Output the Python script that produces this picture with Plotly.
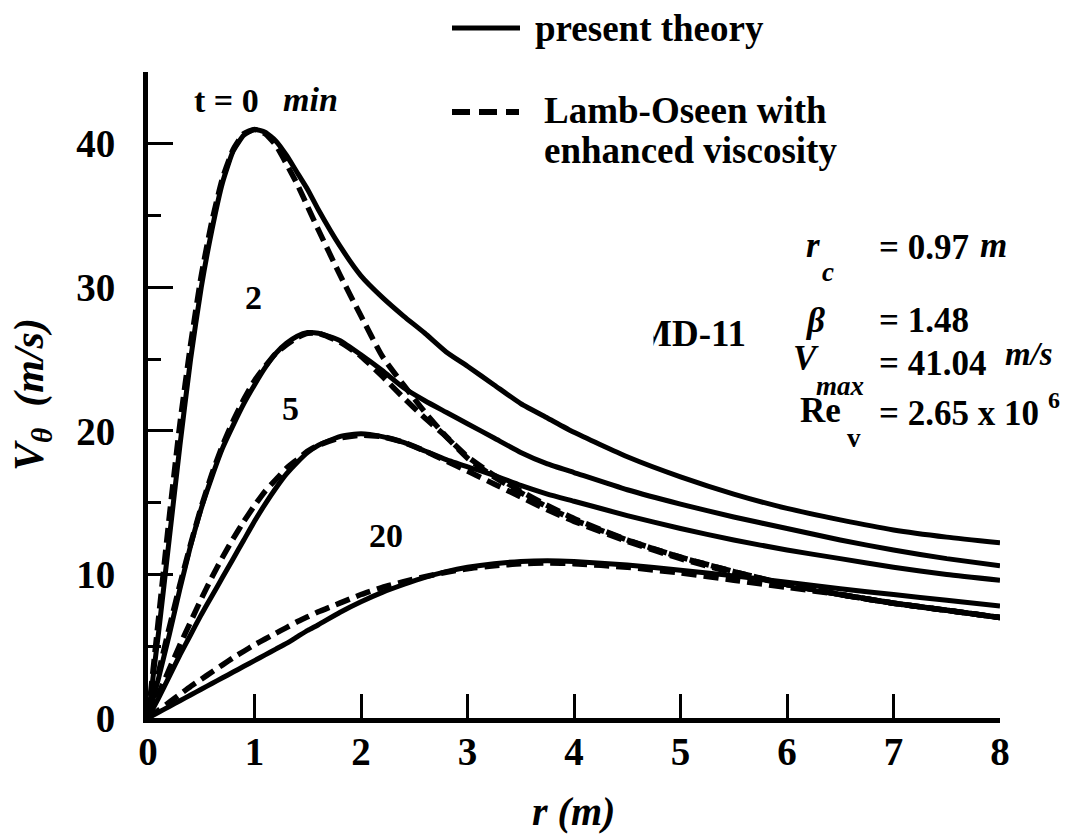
import plotly.graph_objects as go

# radial positions (m)
r = [0, 0.1, 0.2, 0.3, 0.4, 0.5, 0.6, 0.7, 0.8, 0.9, 1.0, 1.1, 1.2, 1.3, 1.4,
     1.5, 1.6, 1.8, 2.0, 2.2, 2.4, 2.6, 2.8, 3.0, 3.25, 3.5, 3.75, 4.0, 4.5,
     5.0, 5.5, 6.0, 6.5, 7.0, 7.5, 8.0]

# present theory, V_theta (m/s)
theory_t0 = [0, 6.0, 12.5, 19.0, 25.0, 30.0, 34.0, 37.3, 39.5, 40.6, 41.0, 40.8,
             40.2, 39.2, 38.0, 36.8, 35.4, 32.9, 30.8, 29.3, 28.0, 26.8, 25.5,
             24.5, 23.2, 21.9, 20.9, 19.9, 18.2, 16.8, 15.6, 14.6, 13.8, 13.1,
             12.6, 12.2]
theory_t2 = [0, 2.8, 5.8, 9.0, 12.0, 14.6, 16.8, 18.8, 20.4, 21.9, 23.2, 24.4,
             25.4, 26.1, 26.6, 26.85, 26.8, 26.3, 25.3, 24.2, 23.0, 22.1, 21.3,
             20.5, 19.5, 18.5, 17.7, 17.1, 15.9, 14.9, 14.0, 13.2, 12.4, 11.7,
             11.1, 10.6]
theory_t5 = [0, 1.4, 2.9, 4.4, 5.8, 7.2, 8.5, 9.8, 11.1, 12.4, 13.7, 14.9, 16.0,
             17.0, 17.8, 18.5, 19.0, 19.6, 19.8, 19.6, 19.2, 18.6, 18.0, 17.5,
             16.9, 16.2, 15.6, 15.1, 14.1, 13.2, 12.4, 11.7, 11.1, 10.5, 10.0,
             9.6]
theory_t20 = [0, 0.4, 0.8, 1.2, 1.6, 2.0, 2.4, 2.8, 3.2, 3.6, 4.0, 4.4, 4.8,
              5.2, 5.65, 6.1, 6.5, 7.35, 8.1, 8.75, 9.3, 9.8, 10.2, 10.5, 10.75,
              10.9, 10.95, 10.9, 10.65, 10.3, 9.9, 9.45, 9.0, 8.6, 8.2, 7.8]

# Lamb-Oseen vortex with enhanced viscosity, V_theta (m/s)
lamb_t0 = [0, 7.0, 14.0, 20.5, 26.0, 30.8, 34.6, 37.6, 39.6, 40.7, 41.0, 40.7,
           39.9, 38.6, 37.2, 35.6, 34.0, 30.9, 28.0, 25.2, 23.2, 21.3, 19.6,
           18.1, 16.8, 15.7, 14.7, 13.8, 12.4, 11.2, 10.2, 9.3, 8.6, 8.0, 7.5,
           7.0]
lamb_t2 = [0, 3.2, 6.3, 9.3, 12.1, 14.7, 17.0, 19.0, 20.7, 22.2, 23.5, 24.5,
           25.4, 26.0, 26.5, 26.8, 26.8, 26.2, 25.2, 23.8, 22.3, 20.9, 19.6,
           18.2, 16.9, 15.8, 14.8, 13.9, 12.4, 11.2, 10.2, 9.3, 8.6, 8.0, 7.5,
           7.0]
lamb_t5 = [0, 1.7, 3.4, 5.1, 6.7, 8.3, 9.8, 11.2, 12.5, 13.7, 14.8, 15.8, 16.6,
           17.4, 18.0, 18.6, 19.0, 19.5, 19.7, 19.6, 19.2, 18.6, 17.9, 17.2,
           16.3, 15.4, 14.5, 13.7, 12.3, 11.1, 10.1, 9.3, 8.6, 8.0, 7.5, 7.0]
lamb_t20 = [0, 0.55, 1.1, 1.65, 2.2, 2.7, 3.2, 3.7, 4.2, 4.65, 5.1, 5.5, 5.9,
            6.3, 6.7, 7.05, 7.4, 8.0, 8.6, 9.1, 9.5, 9.85, 10.15, 10.4, 10.6,
            10.75, 10.8, 10.75, 10.5, 10.1, 9.6, 9.1, 8.6, 8.0, 7.5, 7.0]

x_ticks = [0, 1, 2, 3, 4, 5, 6, 7, 8]
y_ticks = [0, 10, 20, 30, 40]
y_minor = [5, 15, 25, 35, 45]

W, H = 1070, 838
ML, MR, MT, MB = 148, 70, 72, 120
SERIF = "Liberation Serif"
DASH = "15px,7px"


def paper(xp, yp):
    """Convert page pixels to paper coordinates."""
    return (xp - ML) / (W - ML - MR), 1 - (yp - MT) / (H - MT - MB)


fig = go.Figure()

for ys in (theory_t0, theory_t2, theory_t5, theory_t20):
    fig.add_trace(go.Scatter(x=r, y=ys, mode="lines",
                             line=dict(color="black", width=5, shape="spline",
                                       smoothing=0.5),
                             showlegend=False, hoverinfo="skip"))
for ys in (lamb_t0, lamb_t2, lamb_t5, lamb_t20):
    fig.add_trace(go.Scatter(x=r, y=ys, mode="lines",
                             line=dict(color="black", width=5.5, dash=DASH,
                                       shape="spline", smoothing=0.5),
                             showlegend=False, hoverinfo="skip"))

annotations = []


def label(text, xp, yp, size, xanchor="center", yanchor="middle", angle=0):
    xx, yy = paper(xp, yp)
    annotations.append(dict(text="<b>" + text + "</b>", x=xx, y=yy,
                            xref="paper", yref="paper",
                            xanchor=xanchor, yanchor=yanchor, showarrow=False,
                            textangle=angle,
                            font=dict(family=SERIF, size=size, color="black")))


# curve labels
label("t = 0", 192, 101, 34, xanchor="left")
label("<i>min</i>", 281, 99, 34, xanchor="left")
label("2", 253, 297, 34)
label("5", 290, 408, 34)
label("20", 386, 535, 34)

# legend
label("present theory", 533, 28, 37, xanchor="left")
label("Lamb-Oseen with", 542, 110, 37, xanchor="left")
label("enhanced viscosity", 542, 150, 37, xanchor="left")

# vortex parameters
label("MD-11", 748, 333, 37, xanchor="right")
label("<i>r</i>", 813, 245, 35)
label("<i>c</i>", 828, 272, 27)
label("= 0.97", 877, 247, 35, xanchor="left")
label("<i>m</i>", 978, 245, 35, xanchor="left")
label("<i>β</i>", 815, 320, 35)
label("= 1.48", 877, 320, 35, xanchor="left")
label("<i>V</i>", 806, 358, 35)
label("<i>max</i>", 840, 386, 27)
label("= 41.04", 877, 363, 35, xanchor="left")
label("<i>m/s</i>", 1003, 354, 33, xanchor="left")
label("Re", 820, 410, 35)
label("v", 854, 438, 27)
label("= 2.65 x 10", 877, 413, 35, xanchor="left")
label("6", 1046, 400, 24, xanchor="left")

# axis titles
label("<i>r (m)</i>", 573, 812, 40)
label("<i>V</i><sub><i>θ</i></sub><i>  (m/s)</i>", 32, 395, 42, angle=-90)

# white patch over the left part of the aircraft label
mx, my = paper(638, 333)
annotations.append(dict(text=" ", x=mx, y=my, xref="paper", yref="paper",
                        xanchor="center", yanchor="middle", showarrow=False,
                        width=28, height=46, bgcolor="white",
                        font=dict(family=SERIF, size=10, color="white")))

# legend keys
shapes = []
x0, y0 = paper(452, 28)
x1, _ = paper(520, 28)
shapes.append(dict(type="line", xref="paper", yref="paper", x0=x0, x1=x1,
                   y0=y0, y1=y0, line=dict(color="black", width=5)))
x0, y0 = paper(452, 112)
x1, _ = paper(519, 112)
shapes.append(dict(type="line", xref="paper", yref="paper", x0=x0, x1=x1,
                   y0=y0, y1=y0,
                   line=dict(color="black", width=6, dash="18px,9px")))

axis_common = dict(showline=True, linecolor="black", linewidth=5,
                   showgrid=False, zeroline=False, ticks="inside",
                   tickcolor="black", tickwidth=3,
                   tickfont=dict(family=SERIF, size=39, color="black"))

fig.update_layout(
    width=W, height=H,
    margin=dict(l=ML, r=MR, t=MT, b=MB, pad=0),
    paper_bgcolor="white", plot_bgcolor="white",
    font=dict(family=SERIF),
    xaxis=dict(range=[0, 8], tickmode="array", tickvals=x_ticks,
               ticktext=["<b>%d</b>" % v for v in x_ticks],
               ticklen=24, ticklabelstandoff=-5, **axis_common),
    yaxis=dict(range=[0, 45], tickmode="array", tickvals=y_ticks,
               ticktext=["<b>%d</b>" % v for v in y_ticks],
               ticklen=25, ticklabelstandoff=20,
               minor=dict(tickmode="array", tickvals=y_minor,
                          ticks="inside", ticklen=13, tickwidth=3,
                          tickcolor="black", showgrid=False),
               **axis_common),
    annotations=annotations,
    shapes=shapes,
    showlegend=False,
)

fig.write_html("out.html")
